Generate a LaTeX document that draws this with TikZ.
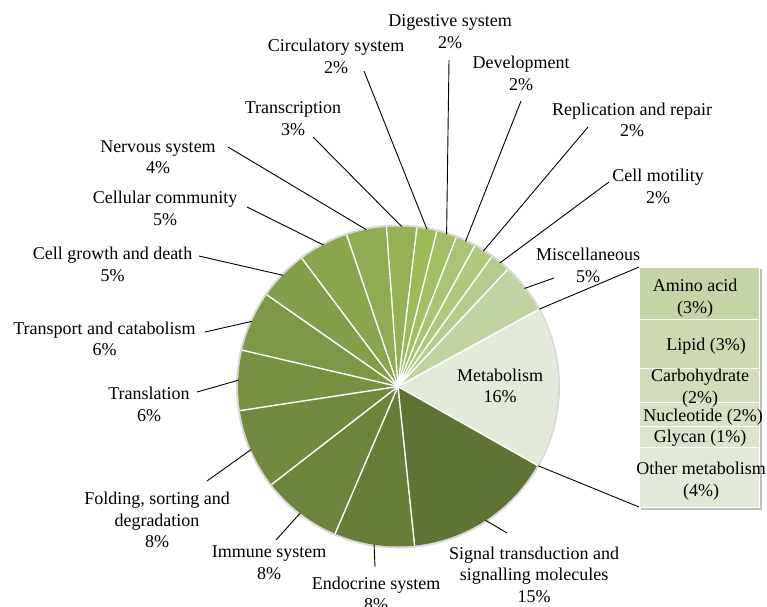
\documentclass[tikz,border=0pt]{standalone}
\usepackage{fontspec}
\setmainfont{Liberation Serif}
\usetikzlibrary{calc}
\definecolor{cMeta}{HTML}{E4EAD9}
\definecolor{cSig}{HTML}{5F7334}
\definecolor{cEndo}{HTML}{677D39}
\definecolor{cImm}{HTML}{6C843C}
\definecolor{cFold}{HTML}{718A3F}
\definecolor{cTrsl}{HTML}{779143}
\definecolor{cTran}{HTML}{7C9746}
\definecolor{cGrow}{HTML}{839F4B}
\definecolor{cComm}{HTML}{89A54E}
\definecolor{cNerv}{HTML}{8FAC52}
\definecolor{cTrsc}{HTML}{94B255}
\definecolor{cCirc}{HTML}{9BBB59}
\definecolor{cDig}{HTML}{A1C064}
\definecolor{cDev}{HTML}{A9C474}
\definecolor{cRep}{HTML}{AFC87F}
\definecolor{cMot}{HTML}{B6CC8C}
\definecolor{cMisc}{HTML}{C1D3A1}
\definecolor{rAmino}{HTML}{C5D4A6}
\definecolor{rLipid}{HTML}{CCD9B1}
\definecolor{rCarb}{HTML}{D2DDBA}
\definecolor{rNucl}{HTML}{D7E1C3}
\definecolor{rGlyc}{HTML}{DCE4CB}
\definecolor{rOther}{HTML}{E2E9D7}
\tikzset{
	lbl/.style={align=center, inner sep=0pt, font=\fontsize{18}{21.5}\selectfont},
	leader/.style={draw=black, line width=0.9pt},
	sep/.style={draw=white, line width=1.4pt},
	rowbox/.style={draw=white, line width=0.8pt}
}
\def\pieslice[#1](#2)(#3:#4:#5){\fill[#1] (#2) -- ($(#2)+(#3:#5)$) arc (#3:#4:#5) -- cycle;}

\begin{document}
\begin{tikzpicture}[x=1pt, y=-1pt]
			%%%%% START %%%%%
			\useasboundingbox (0, 0) rectangle (767, 606);
			
			\coordinate (pc) at (398, 386.5);
			
			\draw[black!15, line width=2pt] (pc) circle (161);
			\foreach \a/\b/\c in {-28.7/29.49/cMeta, 29.49/84.04/cSig, 84.04/113.13/cEndo,
				113.13/142.22/cImm, 142.22/171.31/cFold, 171.31/193.13/cTrsl, 193.13/214.95/cTran,
				214.95/233.13/cGrow, 233.13/251.31/cComm, 251.31/265.86/cNerv, 265.86/276.77/cTrsc,
				276.77/284.04/cCirc, 284.04/291.31/cDig, 291.31/298.58/cDev, 298.58/305.85/cRep,
				305.85/313.12/cMot, 313.12/331.3/cMisc}
				\pieslice[\c](pc)(\a:\b:160);
			\foreach \a in {-28.7, 29.49, 84.04, 113.13, 142.22, 171.31, 193.13, 214.95, 233.13,
				251.31, 265.86, 276.77, 284.04, 291.31, 298.58, 305.85, 313.12}
				\draw[sep] (pc) -- ($(pc)+(\a:160)$);
			
			\node[lbl] (lMeta) at (500, 386) {Metabolism\\16\%};
			
			% breakdown of metabolism
			\fill[black!25] (641, 269) rectangle (762, 510);
			\draw[rowbox, fill=rAmino] (639, 267) rectangle (759, 319);
			\draw[rowbox, fill=rLipid] (639, 319) rectangle (759, 368);
			\draw[rowbox, fill=rCarb] (639, 368) rectangle (759, 402);
			\draw[rowbox, fill=rNucl] (639, 402) rectangle (759, 426);
			\draw[rowbox, fill=rGlyc] (639, 426) rectangle (759, 447);
			\draw[rowbox, fill=rOther] (639, 447) rectangle (759, 507);
			\coordinate (boxTop) at (639, 267);
			\coordinate (boxBot) at (639, 507);
			
			\node[lbl] (lAmino) at (695, 298) {Amino acid\\(3\%)};
			\node[lbl] (lLipid) at (706, 346) {Lipid (3\%)};
			\node[lbl] (lCarb) at (700, 388) {Carbohydrate\\(2\%)};
			\node[lbl] (lNucl) at (703, 417) {Nucleotide (2\%)};
			\node[lbl] (lGlyc) at (700, 438) {Glycan (1\%)};
			\node[lbl] (lOther) at (701, 481) {Other metabolism\\(4\%)};
			
			\draw[leader] ($(pc)+(-28.7:161)$) -- (boxTop);
			\draw[leader] ($(pc)+(29.49:161)$) -- (boxBot);
			
			% labels round the pie
			\node[lbl] (lSig) at (534, 574.5) {Signal transduction and\\signalling molecules\\15\%};
			\node[lbl] (lEndo) at (376, 594) {Endocrine system\\8\%};
			\node[lbl] (lImm) at (269, 562.5) {Immune system\\8\%};
			\node[lbl] (lFold) at (157, 520) {Folding, sorting and\\degradation\\8\%};
			\node[lbl] (lTrsl) at (149, 404.5) {Translation\\6\%};
			\node[lbl] (lTran) at (104.5, 339) {Transport and catabolism\\6\%};
			\node[lbl] (lGrow) at (112.5, 264.5) {Cell growth and death\\5\%};
			\node[lbl] (lComm) at (165, 208.5) {Cellular community\\5\%};
			\node[lbl] (lNerv) at (158, 157) {Nervous system\\4\%};
			\node[lbl] (lTrsc) at (293, 118.5) {Transcription\\3\%};
			\node[lbl] (lCirc) at (336, 56.5) {Circulatory system\\2\%};
			\node[lbl] (lDig) at (450, 31.5) {Digestive system\\2\%};
			\node[lbl] (lDev) at (521, 73.5) {Development\\2\%};
			\node[lbl] (lRep) at (632, 120) {Replication and repair\\2\%};
			\node[lbl] (lMot) at (658, 186.5) {Cell motility\\2\%};
			\node[lbl] (lMisc) at (588, 265.5) {Miscellaneous\\5\%};
			
			\foreach \n/\x/\y/\m in {Sig/507/533/56.77, Endo/375/567/98.59, Imm/276/540/127.68,
				Fold/207/481/156.77, Trsl/197/392/182.22, Tran/205/332/204.04, Grow/199/256/224.04,
				Comm/247/207/242.22, Nerv/228/147/258.59, Trsc/313/137/271.32, Circ/364/71/280.41,
				Dig/449/60/287.68, Dev/521/101/294.95, Rep/588/127/302.22, Mot/609/182/309.49,
				Misc/554/278/322.21}
			{
				\coordinate (e\n) at (\x, \y);
				\coordinate (r\n) at ($(pc)+(\m:160)$);
				\draw[leader] (e\n) -- (r\n);
			}
			
			%%%%% END %%%%%
		\end{tikzpicture}
\end{document}
